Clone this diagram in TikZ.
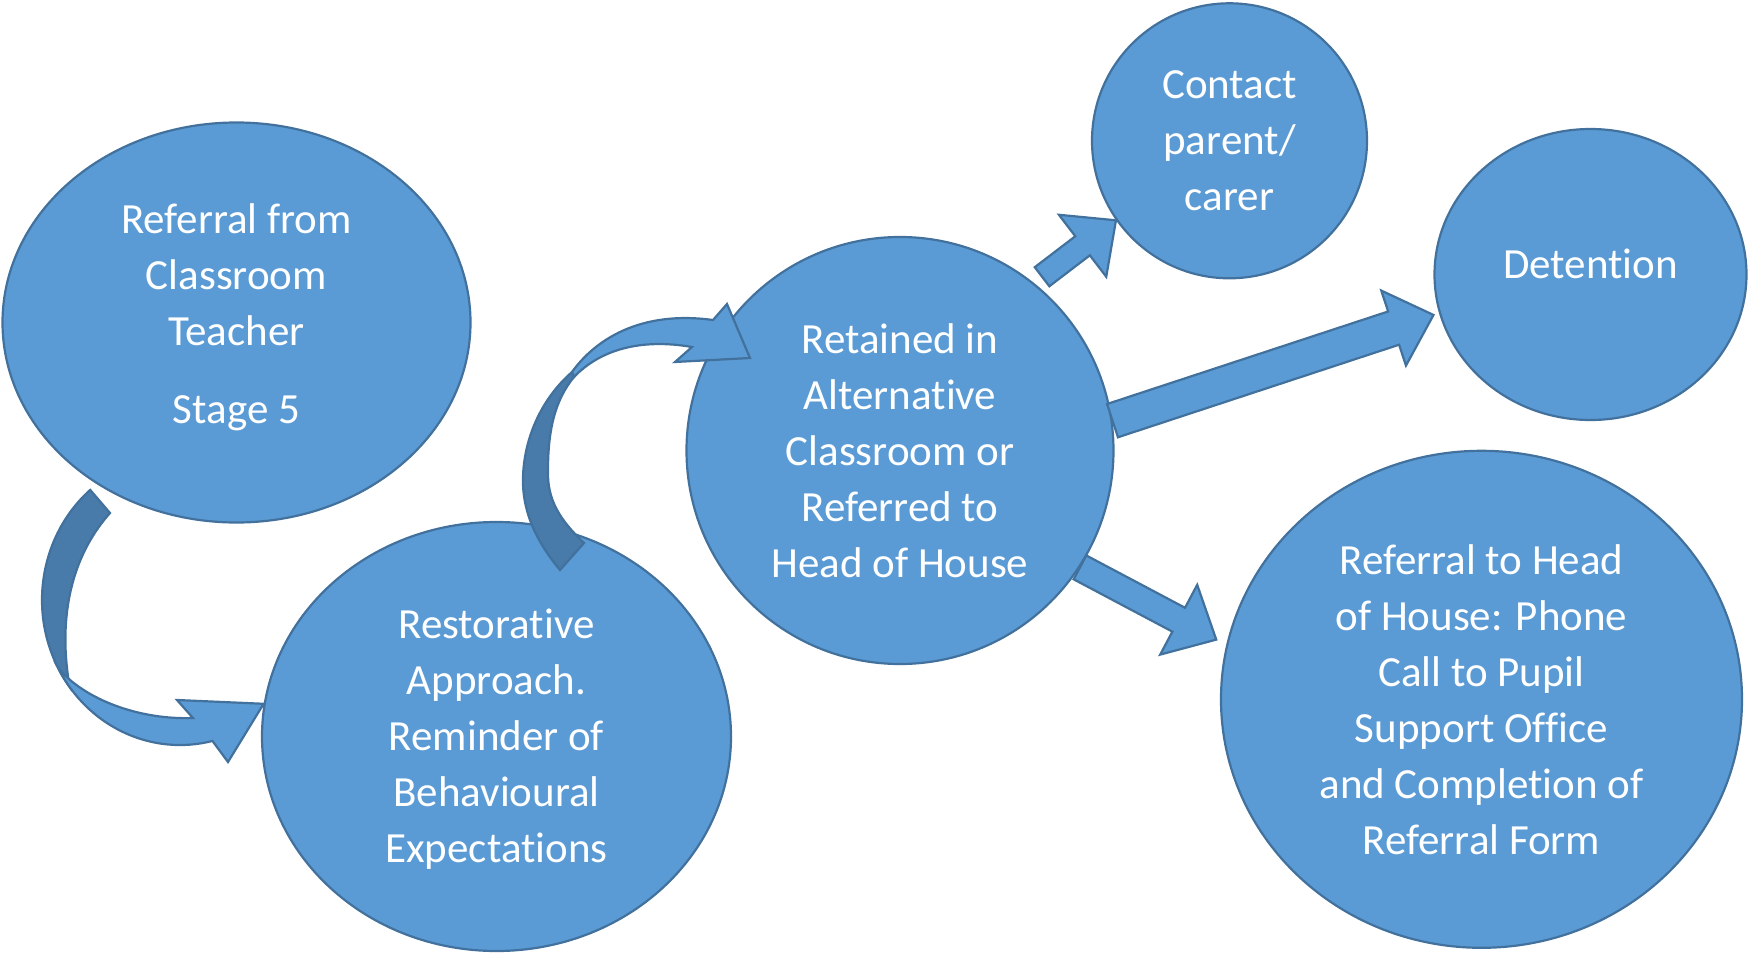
\documentclass[tikz,border=0pt]{standalone}
\usepackage{fontspec}
\setmainfont{Carlito}[Ligatures=CommonOff]
\usetikzlibrary{shapes.geometric,calc}
\definecolor{blueface}{HTML}{5B9BD5}
\definecolor{blueline}{HTML}{41719C}
\definecolor{blueback}{HTML}{487BAA}

% block arrow: from, to, half shaft, half head, head length
\newcommand{\blockarrow}[5]{%
  \coordinate (hb) at ($(#2)!#5!(#1)$);
  \filldraw[face] ($(#1)!#3!90:(#2)$) -- ($(hb)!#3!90:(#2)$)
    -- ($(hb)!#4!90:(#2)$) -- (#2) -- ($(hb)!#4!-90:(#2)$)
    -- ($(hb)!#3!-90:(#2)$) -- ($(#1)!#3!-90:(#2)$) -- cycle;
}

\begin{document}
\begin{tikzpicture}[x=1pt, y=-1pt,
		face/.style={fill=blueface, draw=blueline, line width=2.2pt},
		back/.style={fill=blueback, draw=blueline, line width=2.2pt},
		bubble/.style={ellipse, face, inner sep=0pt, text=white, align=center,
			font=\fontsize{43}{56}\selectfont}]
		\useasboundingbox (0,0) rectangle (1749,953);

		\node[bubble, minimum width=468pt, minimum height=400pt, text depth=17pt] (referral) at (236.5,322.5)
			{Referral from\\Classroom\\Teacher\\[22pt]Stage 5};
		\node[bubble, minimum width=469pt, minimum height=429pt, text depth=2pt] (restorative) at (496.5,736.5)
			{Restorative\\Approach.\\Reminder of\\Behavioural\\Expectations};
		\node[bubble, minimum width=427pt, minimum height=427pt] (retained) at (900,450.5)
			{Retained in\\Alternative\\Classroom or\\Referred to\\Head of House};
		\node[bubble, minimum width=275pt, minimum height=275pt] (contact) at (1229.5,140.8)
			{Contact\\parent/\\carer};
		\node[bubble, minimum width=312pt, minimum height=291pt, text depth=22pt] (detention) at (1590.5,274.5)
			{Detention};
		\node[bubble, minimum width=521pt, minimum height=497pt] (hoh) at (1481.5,699.3)
			{Referral to Head\\of House: Phone\\Call to Pupil\\Support Office\\and Completion of\\Referral Form};

		% straight arrows out of retained
		\coordinate (t1) at ($(retained.51)+(7,-7)$);
		\coordinate (h2) at ($(detention.195)+(-6,0)$);
		\coordinate (h3) at ($(hoh.167)+(-11,-1)$);
		\blockarrow{t1}{contact.215}{12pt}{39pt}{42pt}
		\blockarrow{retained.8}{h2}{17.5pt}{39.5pt}{42pt}
		\blockarrow{retained.327}{h3}{13.5pt}{39.5pt}{42.5pt}

		% curved arrow referral -> restorative
		\filldraw[back] (90.2,489.9) arc[start angle=229.4, end angle=143, x radius=138, y radius=145]
			.. controls (64,655) and (55,575) .. (110,513) -- cycle;
		\filldraw[face] (58.2,668.1) arc[start angle=152, end angle=76.4, x radius=138, y radius=145]
			-- (228,762) -- (restorative.172) -- (177,700) -- (193,718)
			.. controls (140,720) and (85,700) .. (58.2,668.1) -- cycle;

		% curved arrow restorative -> retained
		\filldraw[back] (560,570) .. controls (535,540) and (522,510) .. (523,477)
			.. controls (524,440) and (540,400) .. (572,372) -- (574,377)
			.. controls (555,400) and (548,430) .. (548,470)
			.. controls (547,500) and (560,520) .. (584,543) -- cycle;
		\filldraw[face] (572,372) .. controls (595,340) and (640,310) .. (713,320)
			-- (727,304) -- (750,358) -- (675,362) -- (692,347)
			.. controls (640,338) and (600,350) .. (574,377) -- cycle;
\end{tikzpicture}
\end{document}
